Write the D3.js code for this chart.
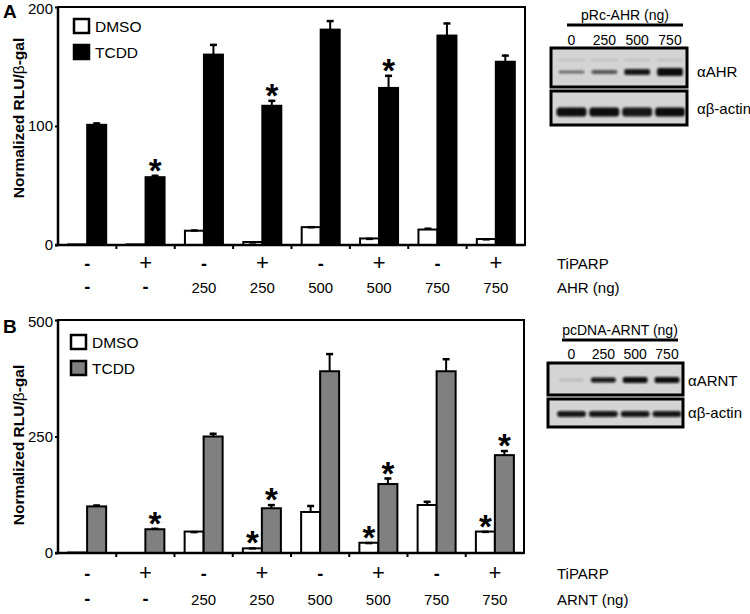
<!DOCTYPE html>
<html><head><meta charset="utf-8">
<script src="https://cdn.jsdelivr.net/npm/d3@7"></script>
<style>
html,body{margin:0;padding:0;background:#fff;}
svg{display:block;font-family:Arial,"Liberation Sans",sans-serif;}
</style></head>
<body>
<script>
// ---------- DATA ----------
const groups = [1,2,3,4,5,6,7,8];
const tiparp = ["-","+","-","+","-","+","-","+"];
const ahrNg  = ["-","-","250","250","500","500","750","750"];
const arntNg = ["-","-","250","250","500","500","750","750"];

const dmsoA    = [0.5, 0.5, 12, 2.5, 15, 5.5, 13, 5];
const dmsoAErr = [0, 0, 1, 0.5, 0.8, 0.5, 1.5, 0.6];
const tcddA    = [101, 57, 160, 117, 181, 132, 176, 154];
const tcddAErr = [2, 2, 9, 5, 8, 11, 11, 6];
const starDmsoA = [0,0,0,0,0,0,0,0];
const starTcddA = [0,1,0,1,0,1,0,0];

const dmsoB    = [1, 0, 46, 10, 88, 22, 103, 46];
const dmsoBErr = [0, 0, 1, 2, 15, 1.5, 9, 1.5];
const tcddB    = [100, 51, 250, 96, 390, 148, 390, 210];
const tcddBErr = [4, 3, 8, 9, 39, 14, 28, 11];
const starDmsoB = [0,0,0,1,0,1,0,1];
const starTcddB = [0,1,0,1,0,1,0,1];

const ticksA = [0,100,200];
const ticksB = [0,250,500];

const lanes = ["0","250","500","750"];
const ahrBand    = [0.5, 0.65, 0.95, 1.0];
const ahrBandH   = [3, 4, 6, 8];
const ahrFaint   = [0.15, 0.15, 0.15, 0.15];
const actinA     = [1.0, 1.0, 0.95, 1.0];
const arntBand   = [0.12, 0.95, 1.0, 1.0];
const arntBandH  = [3, 5, 6, 6];
const actinB     = [0.95, 0.95, 0.95, 0.95];

// ---------- SVG ----------
const W = 750, H = 614;
const svg = d3.select("body").append("svg").attr("width", W).attr("height", H);
const defs = svg.append("defs");
defs.append("filter").attr("id","blur").attr("x","-20%").attr("y","-50%").attr("width","140%").attr("height","200%")
  .append("feGaussianBlur").attr("stdDeviation", 1.2);

function panel(cfg){
  const {left,right,top,bottom,ymax,ticks,dmso,dmsoErr,tcdd,tcddErr,starD,starT,fill,letter,letterY,
         titleY,legY,legX,rowY1,rowY2,row2Label,row2} = cfg;
  const g = svg.append("g");
  const x = d3.scaleBand().domain(groups).range([left,right]).paddingInner(0).paddingOuter(0);
  const y = d3.scaleLinear().domain([0,ymax]).range([bottom,top]);
  const bw = 19;
  const x1 = d3.scaleBand().domain(["DMSO","TCDD"]).range([x.bandwidth()/2 - bw, x.bandwidth()/2 + bw]);

  // frame
  g.append("rect").attr("x",left).attr("y",top).attr("width",right-left).attr("height",bottom-top)
   .attr("fill","none").attr("stroke","#000").attr("stroke-width",2);

  const series = [
    {key:"DMSO", vals:dmso, errs:dmsoErr, stars:starD, fill:"#fff"},
    {key:"TCDD", vals:tcdd, errs:tcddErr, stars:starT, fill:fill}
  ];
  series.forEach(s=>{
    const gs = g.append("g");
    groups.forEach((gr,i)=>{
      const v = s.vals[i], e = s.errs[i];
      const bx = x(gr) + x1(s.key);
      if (v > 0.2) {
        gs.append("rect").attr("x",bx).attr("y",y(v)).attr("width",x1.bandwidth())
          .attr("height", Math.max(0, y(0)-y(v))).attr("fill",s.fill).attr("stroke","#000").attr("stroke-width",2);
      }
      const cx = bx + x1.bandwidth()/2;
      if (e > 0.4) {
        gs.append("line").attr("x1",cx).attr("x2",cx).attr("y1",y(v)).attr("y2",y(v+e))
          .attr("stroke","#000").attr("stroke-width",2);
        gs.append("line").attr("x1",cx-3.5).attr("x2",cx+3.5).attr("y1",y(v+e)+1).attr("y2",y(v+e)+1)
          .attr("stroke","#000").attr("stroke-width",2.5);
      }
      if (s.stars[i]) {
        gs.append("text").attr("x",cx).attr("y",y(v+e)+7).attr("text-anchor","middle")
          .attr("font-size",33).attr("font-weight","bold").text("*");
      }
    });
  });

  // y axis
  const ya = g.append("g").attr("transform",`translate(${left},0)`)
    .call(d3.axisLeft(y).tickValues(ticks).tickSize(3).tickPadding(2).tickFormat(d3.format("d")));
  ya.select(".domain").attr("stroke-width",2.5).attr("d",`M0,${top}V${bottom+1}`);
  ya.selectAll(".tick line").attr("stroke-width",2);
  ya.selectAll("text").attr("font-size",15).attr("font-family","Arial, 'Liberation Sans', sans-serif").attr("fill","#000")
    .attr("y", d => d === ymax ? 2 : 0);

  // x axis (ticks at group boundaries)
  const xa = g.append("g").attr("transform",`translate(0,${bottom})`);
  xa.append("line").attr("x1",left-3).attr("x2",right).attr("y1",0).attr("y2",0).attr("stroke","#000").attr("stroke-width",2.5);
  groups.slice(1).forEach(gr=>{
    xa.append("line").attr("x1",x(gr)).attr("x2",x(gr)).attr("y1",0).attr("y2",4).attr("stroke","#000").attr("stroke-width",2);
  });

  // row labels
  groups.forEach((gr,i)=>{
    const cx = x(gr) + x.bandwidth()/2;
    g.append("text").attr("x",cx).attr("y",rowY1).attr("text-anchor","middle").attr("font-size",tiparp[i]==="-"?18:22)
      .attr("font-weight",tiparp[i]==="-"?"bold":"normal").text(tiparp[i]);
    g.append("text").attr("x",cx).attr("y",rowY2).attr("text-anchor","middle")
      .attr("font-size",row2[i]==="-"?18:15).attr("font-weight",row2[i]==="-"?"bold":"normal").text(row2[i]);
  });
  g.append("text").attr("x",557).attr("y",rowY1-1).attr("font-size",15).text("TiPARP");
  g.append("text").attr("x",557).attr("y",rowY2).attr("font-size",15).text(row2Label);

  // y title
  const t = g.append("text").attr("transform",`translate(24,${titleY}) rotate(-90)`).attr("text-anchor","middle")
    .attr("font-size",15.5).attr("font-weight","bold");
  t.append("tspan").text("Normalized RLU/");
  t.append("tspan").attr("font-weight","normal").text("β");
  t.append("tspan").text("-gal");

  // panel letter
  g.append("text").attr("x",3).attr("y",letterY).attr("font-size",19).attr("font-weight","bold").text(letter);

  // legend
  const lg = g.append("g");
  [{k:"DMSO",f:"#fff"},{k:"TCDD",f:fill}].forEach((d,i)=>{
    const yy = legY + i*26;
    lg.append("rect").attr("x",legX).attr("y",yy).attr("width",15).attr("height",14)
      .attr("fill",d.f).attr("stroke","#000").attr("stroke-width",2.5);
    lg.append("text").attr("x",legX+21).attr("y",yy+13).attr("font-size",15.5).text(d.k);
  });
}

panel({left:58,right:525,top:7,bottom:245,ymax:200,ticks:ticksA,dmso:dmsoA,dmsoErr:dmsoAErr,tcdd:tcddA,tcddErr:tcddAErr,
  starD:starDmsoA,starT:starTcddA,fill:"#000",letter:"A",letterY:18,titleY:118,legY:19,legX:74,
  rowY1:270,rowY2:293,row2Label:"AHR (ng)",row2:ahrNg});
panel({left:58,right:524,top:320,bottom:553,ymax:500,ticks:ticksB,dmso:dmsoB,dmsoErr:dmsoBErr,tcdd:tcddB,tcddErr:tcddBErr,
  starD:starDmsoB,starT:starTcddB,fill:"#808080",letter:"B",letterY:333,titleY:445,legY:335,legX:71,
  rowY1:580,rowY2:605,row2Label:"ARNT (ng)",row2:arntNg});

// ---------- Western blots ----------
function blot(cfg){
  const {bx0,bx1,headerText,headerY,lineY,lineX0,lineX1,laneY,laneX,box1,box2,band1,band1H,faint,band2,label1,labX,lab1Y,lab2Y,band1Y,band2Y,faintY,band2H} = cfg;
  const g = svg.append("g");
  g.append("text").attr("x",(lineX0+lineX1)/2).attr("y",headerY).attr("text-anchor","middle").attr("font-size",14).text(headerText);
  g.append("line").attr("x1",lineX0).attr("x2",lineX1).attr("y1",lineY).attr("y2",lineY).attr("stroke","#000").attr("stroke-width",3);
  const lx = d3.scalePoint().domain(lanes).range(laneX);
  lanes.forEach(l=> g.append("text").attr("x",lx(l)).attr("y",laneY).attr("text-anchor","middle").attr("font-size",14).text(l));
  [box1,box2].forEach(b=>{
    g.append("rect").attr("x",bx0).attr("y",b[0]).attr("width",bx1-bx0).attr("height",b[1]-b[0]).attr("fill","#d4d4d4");
  });
  const step = lx.step();
  const bandW = step - 7;
  const bg = g.append("g").attr("filter","url(#blur)");
  lanes.forEach((l,i)=>{
    if (faint) bg.append("rect").attr("x",lx(l)-bandW/2).attr("y",faintY-1).attr("width",bandW).attr("height",1.5)
        .attr("fill","#000").attr("opacity",faint[i]);
    bg.append("rect").attr("x",lx(l)-bandW/2).attr("y",band1Y-band1H[i]/2).attr("width",bandW).attr("height",band1H[i])
      .attr("rx",2).attr("fill","#0a0a0a").attr("opacity",band1[i]);
    bg.append("rect").attr("x",lx(l)-(step-3)/2).attr("y",band2Y-band2H/2).attr("width",step-3).attr("height",band2H)
      .attr("rx",3).attr("fill","#0a0a0a").attr("opacity",band2[i]);
  });
  [box1,box2].forEach(b=>{
    g.append("rect").attr("x",bx0).attr("y",b[0]).attr("width",bx1-bx0).attr("height",b[1]-b[0])
      .attr("fill","none").attr("stroke","#000").attr("stroke-width",3);
  });
  const t1 = g.append("text").attr("x",labX).attr("y",lab1Y).attr("font-size",15);
  t1.append("tspan").text("α"); t1.append("tspan").text(label1);
  const t2 = g.append("text").attr("x",labX).attr("y",lab2Y).attr("font-size",15);
  t2.append("tspan").text("αβ-actin");
}

blot({bx0:551,bx1:687,headerText:"pRc-AHR (ng)",headerY:20,lineY:25,lineX0:567,lineX1:683,laneY:45,
  laneX:[571.5,670],box1:[48,87],box2:[91,125],band1:ahrBand,band1H:ahrBandH,faint:ahrFaint,faintY:60,band2:actinA,
  band1Y:72,band2Y:112,band2H:9,label1:"AHR",labX:697,lab1Y:77,lab2Y:114});
blot({bx0:548,bx1:683,headerText:"pcDNA-ARNT (ng)",headerY:335,lineY:340,lineX0:562,lineX1:678,laneY:359,
  laneX:[571.5,667],box1:[363,395],box2:[399,427],band1:arntBand,band1H:arntBandH,faint:null,faintY:0,band2:actinB,
  band1Y:380,band2Y:414,band2H:6,label1:"ARNT",labX:688,lab1Y:386,lab2Y:418});
</script>
</body></html>
